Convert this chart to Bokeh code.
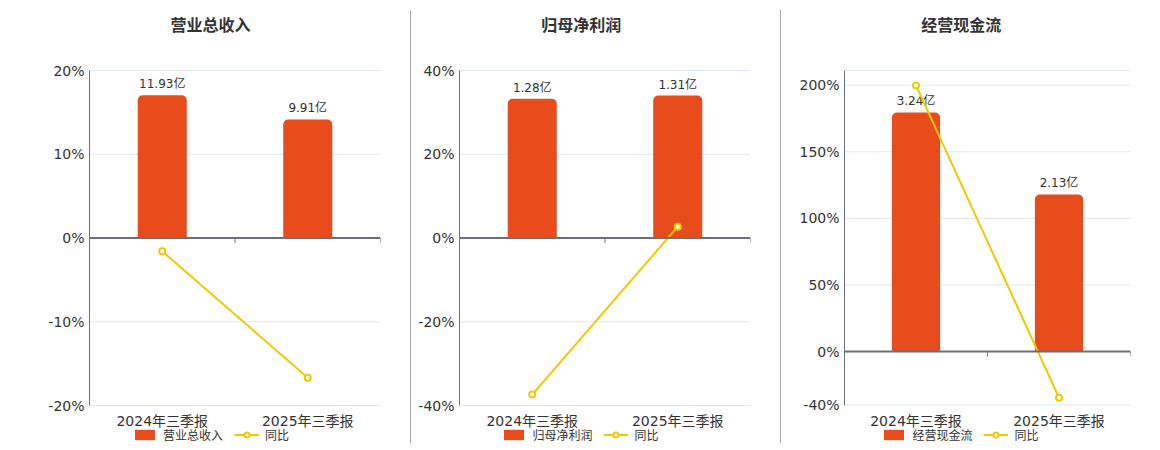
from bokeh.plotting import figure
from bokeh.models import (Range1d, LinearAxis, FixedTicker, PrintfTickFormatter, Span,
                          Legend, LegendItem, Label, Div)
from bokeh.layouts import row
from bokeh.core.properties import value
from bokeh.embed import file_html
from bokeh.resources import INLINE

# ---------------- data ----------------
categories = ["2024年三季报", "2025年三季报"]

titles = ["营业总收入", "归母净利润", "经营现金流"]

revenue = [11.93, 9.91]          # 亿
revenue_yoy = [-1.58, -16.68]    # %

net_profit = [1.28, 1.31]        # 亿
net_profit_yoy = [-37.4, 2.7]    # %

cash_flow = [3.24, 2.13]         # 亿
cash_flow_yoy = [199.8, -34.6]   # %

yoy_name = "同比"

# axis settings (percent-axis ticks and extents, bar-axis extents)
pct_ticks_1 = [-20, -10, 0, 10, 20]
pct_ticks_2 = [-40, -20, 0, 20, 40]
pct_ticks_3 = [-40, 0, 50, 100, 150, 200]
pct_range_1 = (-20, 20)
pct_range_2 = (-40, 40)
pct_range_3 = (-40.5, 211)
bar_range_1 = (-14, 14)
bar_range_2 = (-1.54, 1.54)
bar_range_3 = (-0.731, 3.809)

BAR = "#E84B1C"
LINE = "#F3C800"
AXIS = "#6E7079"
GRID = "#E0E6F1"
TXT = "#333333"
FONT = "DejaVu Sans, Noto Sans CJK SC"

FIG_H = 450          # figure height (px)
DATA_TOP = 70        # px from top where the value axis starts
DATA_BOT = 405       # px from top where the value axis ends
DATA_H = DATA_BOT - DATA_TOP


def extend(r):
    """Extend a value extent so that it occupies DATA_TOP..DATA_BOT of the frame."""
    k = (r[1] - r[0]) / DATA_H
    return (r[0] - (FIG_H - DATA_BOT) * k, r[1] + DATA_TOP * k), k


def panel(title, vals, yoy, ticks, prange, brange, width, left, right, title_px, legend_px, top_grid=False):
    (ys, ye), k = extend(prange)
    (bs, be), _ = extend(brange)
    n = len(categories)
    p = figure(width=width, height=FIG_H, output_backend="svg", toolbar_location=None,
               x_range=Range1d(0, n), y_range=Range1d(ys, ye),
               min_border_left=left, min_border_right=right,
               min_border_top=0, min_border_bottom=0,
               x_axis_type=None, y_axis_type=None)
    p.outline_line_color = None
    p.extra_y_ranges = {"bar": Range1d(bs, be)}
    frame_w = width - left - right
    px_x = n / frame_w

    # value axis (left)
    ya = LinearAxis(ticker=FixedTicker(ticks=ticks), formatter=PrintfTickFormatter(format="%d%%"),
                    bounds=prange)
    ya.axis_line_color = AXIS
    ya.major_tick_line_color = None
    ya.minor_tick_line_color = None
    ya.major_tick_out = 0
    ya.major_label_standoff = 5
    ya.major_label_text_font = FONT
    ya.major_label_text_font_size = "14px"
    ya.major_label_text_color = TXT
    p.add_layout(ya, "left")

    # grid lines
    for t in ticks:
        if t != 0:
            p.add_layout(Span(location=t, dimension="width", line_color=GRID, line_width=1, level="underlay"))
    if top_grid:
        p.add_layout(Span(location=prange[1], dimension="width", line_color=GRID, line_width=1, level="underlay"))

    xs = [i + 0.5 for i in range(n)]

    # bars + value labels
    bars = p.vbar(x=xs, top=vals, bottom=0, width=0.337, y_range_name="bar",
                  fill_color=BAR, line_color=None, border_radius=(5, 5, 0, 0))
    p.text(x=xs, y=vals, text=[f"{v:.2f}亿" for v in vals], y_range_name="bar",
           text_align="center", text_baseline="bottom", y_offset=-4,
           text_font=value(FONT), text_font_size="12px", text_color=TXT)

    # zero axis line with boundary ticks
    p.add_layout(Span(location=0, dimension="width", line_color=AXIS, line_width=2))
    bx = list(range(1, n + 1))
    p.segment(x0=bx, y0=[0] * n, x1=bx, y1=[-5 * k] * n, line_color=AXIS, line_width=1)

    # category labels
    p.text(x=xs, y=[ye - 420 * k] * n, text=categories,
           text_align="center", text_baseline="middle",
           text_font=value(FONT), text_font_size="14px", text_color=TXT)

    # yoy line
    ln = p.line(xs, yoy, line_color=LINE, line_width=2)
    sc = p.scatter(xs, yoy, size=6, marker="circle", fill_color="white", line_color=LINE, line_width=2)

    # title
    p.add_layout(Label(x=title_px * px_x, y=ye - 24.5 * k, text=title,
                       text_align="center", text_baseline="middle",
                       text_font=FONT, text_font_size="16px", text_font_style="bold",
                       text_color=TXT))

    legend = Legend(items=[LegendItem(label=title, renderers=[bars]),
                           LegendItem(label=yoy_name, renderers=[ln, sc])],
                    orientation="horizontal", location=(legend_px, FIG_H - 442.5),
                    border_line_color=None, background_fill_alpha=0,
                    padding=0, margin=0, spacing=11, label_standoff=6,
                    glyph_width=25, glyph_height=13,
                    label_text_font=FONT, label_text_font_size="12px", label_text_color=TXT,
                    label_height=13)
    p.add_layout(legend)
    return p


p1 = panel(titles[0], revenue, revenue_yoy, pct_ticks_1, pct_range_1, bar_range_1,
           410, 89, 30, 121, 43)
p2 = panel(titles[1], net_profit, net_profit_yoy, pct_ticks_2, pct_range_2, bar_range_2,
           369, 48, 30, 121.7, 42.4)
p3 = panel(titles[2], cash_flow, cash_flow_yoy, pct_ticks_3, pct_range_3, bar_range_3,
           369, 63, 20, 116.7, 37.4, top_grid=True)


def sep():
    return Div(width=1, height=433, margin=(10, 0, 0, 0), styles={"background-color": "#AAAAAA"})


layout = row(p1, sep(), p2, sep(), p3, spacing=0)

open("out.html", "w").write(file_html(layout, INLINE))
